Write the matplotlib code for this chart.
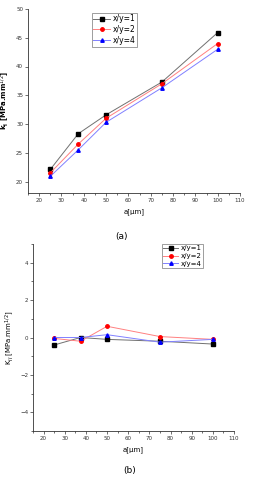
import matplotlib.pyplot as plt
from matplotlib.ticker import MultipleLocator

a_um = [25, 37.5, 50, 75, 100]
series_names = ['x/y=1', 'x/y=2', 'x/y=4']

k1_xy1 = [22.1, 28.3, 31.6, 37.3, 45.9]
k1_xy2 = [21.5, 26.5, 31.0, 37.0, 44.0]
k1_xy4 = [20.9, 25.5, 30.3, 36.3, 43.0]

k2_xy1 = [-0.40, 0.00, -0.10, -0.20, -0.35]
k2_xy2 = [-0.05, -0.20, 0.60, 0.05, -0.10]
k2_xy4 = [0.00, 0.00, 0.15, -0.25, -0.10]

line_colors = ['#707070', '#ff8080', '#8080ff']
marker_colors = ['black', 'red', 'blue']
markers = ['s', 'o', '^']

fig = plt.figure(figsize=(2.63, 4.80), dpi=100)
ax1 = fig.add_axes([28 / 263, 1 - 193 / 480, (240 - 28) / 263, (193 - 9) / 480])
ax2 = fig.add_axes([33 / 263, 1 - 431 / 480, (234 - 33) / 263, (431 - 244) / 480])


def style_axis(ax):
    for s in ['top', 'right']:
        ax.spines[s].set_visible(False)
    for s in ['left', 'bottom']:
        ax.spines[s].set_linewidth(0.6)
        ax.spines[s].set_color('#333333')
    ax.tick_params(which='both', direction='out', labelsize=4, width=0.5, length=2, pad=1.5,
                   colors='#333333')
    ax.tick_params(which='minor', length=1.2)
    ax.xaxis.set_major_locator(MultipleLocator(10))
    ax.xaxis.set_minor_locator(MultipleLocator(5))
    ax.set_xlim(15, 110)


# (a)
for vals, name, lc, mc, mk in zip([k1_xy1, k1_xy2, k1_xy4], series_names, line_colors, marker_colors, markers):
    ax1.plot(a_um, vals, color=lc, lw=0.7, marker=mk, ms=2.5, mfc=mc, mec=mc, label=name)
style_axis(ax1)
ax1.set_ylim(18, 50)
ax1.yaxis.set_major_locator(MultipleLocator(5))
ax1.set_xlabel('a[μm]', fontsize=5, labelpad=4)
ax1.set_ylabel(r'$\mathbf{k_I}$ [MPa.mm$^{1/2}$]', fontsize=5, fontweight='bold', labelpad=3)
leg1 = ax1.legend(loc='upper left', bbox_to_anchor=(0.30, 0.98), fontsize=5.5, frameon=True,
                  fancybox=False, edgecolor='#555555', handlelength=2.2, borderpad=0.2,
                  labelspacing=0.25, handletextpad=0.4, borderaxespad=0)
leg1.get_frame().set_linewidth(0.5)
fig.text(122 / 263, 1 - 237 / 480, '(a)', fontsize=6.5, ha='center', va='center')

# (b)
for vals, name, lc, mc, mk in zip([k2_xy1, k2_xy2, k2_xy4], series_names, line_colors, marker_colors, markers):
    ax2.plot(a_um, vals, color=lc, lw=0.7, marker=mk, ms=2.5, mfc=mc, mec=mc, label=name)
style_axis(ax2)
ax2.set_ylim(-5, 5)
ax2.yaxis.set_major_locator(MultipleLocator(2))
ax2.yaxis.set_minor_locator(MultipleLocator(1))
ax2.set_xlabel('a[μm]', fontsize=5, labelpad=4)
ax2.set_ylabel(r'K$_{II}$ [MPa.mm$^{1/2}$]', fontsize=5, labelpad=3)
leg2 = ax2.legend(loc='upper left', bbox_to_anchor=(0.64, 1.0), fontsize=5, frameon=True,
                  fancybox=False, edgecolor='#555555', handlelength=2.2, borderpad=0.2,
                  labelspacing=0.25, handletextpad=0.3, borderaxespad=0)
leg2.get_frame().set_linewidth(0.5)
fig.text(130 / 263, 1 - 470 / 480, '(b)', fontsize=6.5, ha='center', va='center')

fig.savefig('out.png', dpi=100)
